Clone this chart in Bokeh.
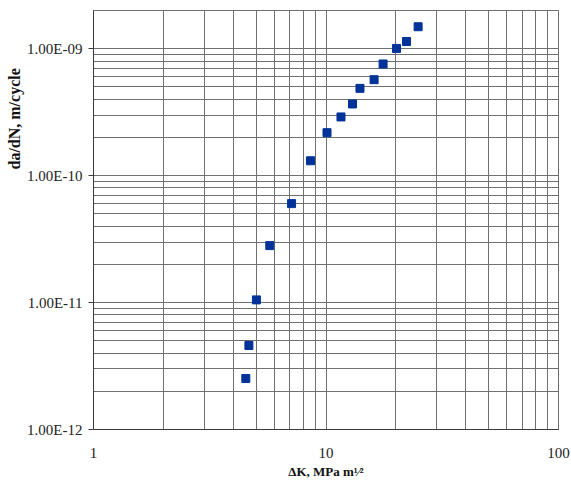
from bokeh.plotting import figure
from bokeh.models import (LogTicker, CustomJSTickFormatter, Range1d,
                          ColumnDataSource, Title)
from bokeh.embed import file_html
from bokeh.resources import INLINE

# Data
delta_k = [4.52, 4.66, 5.02, 5.73, 7.11, 8.58, 10.1, 11.6, 13.0, 14.0,
           16.1, 17.6, 20.1, 22.2, 24.9]
dadn = [2.52e-12, 4.59e-12, 1.05e-11, 2.81e-11, 6.02e-11, 1.31e-10,
        2.18e-10, 2.90e-10, 3.67e-10, 4.87e-10, 5.70e-10, 7.58e-10,
        1.005e-9, 1.14e-9, 1.49e-9]

x_title = "ΔK, MPa m¹⁄²"
y_title = "da/dN, m/cycle"

SERIF = "Liberation Serif"
GRID = "#6f6f6f"

p = figure(width=571, height=481, x_axis_type="log", y_axis_type="log",
           x_range=Range1d(1, 100), y_range=Range1d(1e-12, 2e-9),
           output_backend="svg", toolbar_location=None,
           min_border_left=93, min_border_right=13, min_border_top=10,
           min_border_bottom=52)
p.background_fill_color = "white"
p.border_fill_color = "white"
p.outline_line_color = GRID
p.outline_line_width = 1

p.xaxis.ticker = LogTicker(num_minor_ticks=10)
p.yaxis.ticker = LogTicker(num_minor_ticks=10)
p.xgrid.ticker = p.xaxis.ticker
p.ygrid.ticker = p.yaxis.ticker

for g in (p.xgrid, p.ygrid):
    g.grid_line_color = GRID
    g.grid_line_width = 1
    g.minor_grid_line_color = GRID
    g.minor_grid_line_width = 1

p.yaxis.formatter = CustomJSTickFormatter(code="""
    let s = tick.toExponential(2).toUpperCase();
    return s.replace(/E([+-])(\\d)$/, 'E$10$2');
""")
p.xaxis.formatter = CustomJSTickFormatter(code="return tick.toFixed(0);")

for ax in (p.xaxis, p.yaxis):
    ax.axis_line_color = "#3a3a3a"
    ax.axis_line_width = 1
    ax.major_label_text_font = SERIF
    ax.major_label_text_font_size = "15px"
    ax.major_label_text_color = "#222222"
    ax.minor_tick_line_color = None
    ax.major_tick_line_color = "#3a3a3a"

p.yaxis.major_tick_out = 5
p.yaxis.major_tick_in = 0
p.yaxis.major_label_standoff = 6
p.xaxis.major_tick_out = 0
p.xaxis.major_tick_in = 0
p.xaxis.major_label_standoff = 14

p.xaxis.axis_label = x_title
p.xaxis.axis_label_text_font = SERIF
p.xaxis.axis_label_text_font_size = "13px"
p.xaxis.axis_label_text_font_style = "bold"
p.xaxis.axis_label_text_color = "#111111"
p.xaxis.axis_label_standoff = 3

src = ColumnDataSource(dict(x=delta_k, y=dadn))
p.scatter("x", "y", source=src, marker="square", size=8,
          fill_color="#003399", line_color="#003399")

yt = Title(text=y_title, align="left", offset=260, standoff=4,
           text_font=SERIF, text_font_size="16px", text_font_style="bold",
           text_color="#111111")
p.add_layout(yt, "left")

open("out.html", "w").write(file_html(p, INLINE))
